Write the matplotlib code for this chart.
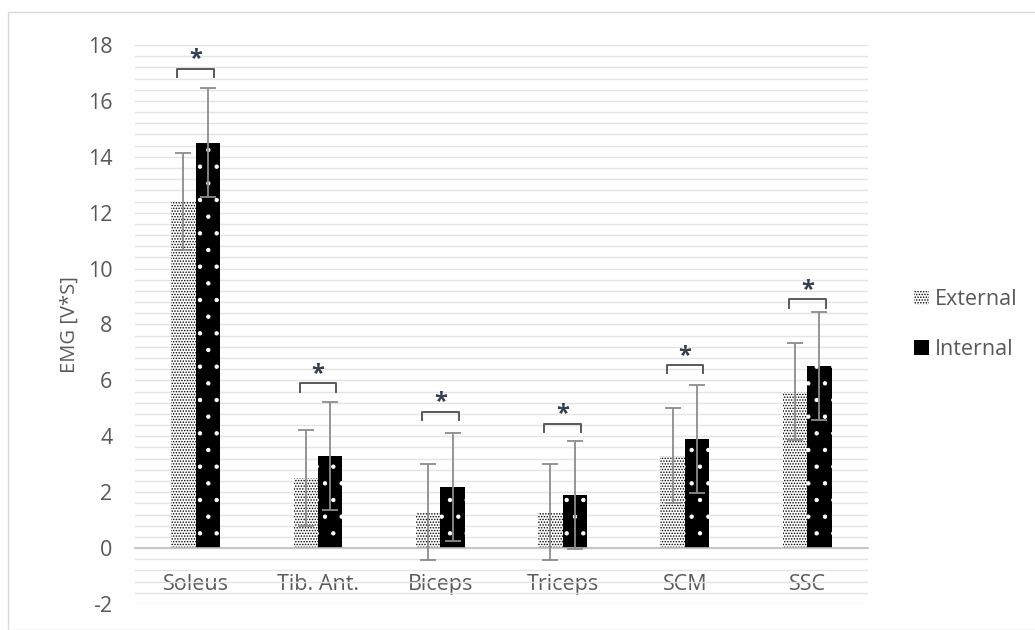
import matplotlib
matplotlib.use('Agg')
import matplotlib.pyplot as plt
import numpy as np
from matplotlib.patches import Patch, Rectangle
from matplotlib.ticker import MultipleLocator

plt.rcParams['font.family'] = ['Open Sans', 'DejaVu Sans']
plt.rcParams['axes.unicode_minus'] = False
plt.rcParams['hatch.linewidth'] = 0.7

muscles = ['Soleus', 'Tib. Ant.', 'Biceps', 'Triceps', 'SCM', 'SSC']
external = [12.4, 2.5, 1.3, 1.3, 3.3, 5.6]
external_err = [1.72, 1.72, 1.72, 1.72, 1.70, 1.72]
internal = [14.5, 3.3, 2.2, 1.9, 3.9, 6.5]
internal_err = [1.95, 1.93, 1.93, 1.93, 1.93, 1.93]
bracket_y = [17.15, 5.9, 4.88, 4.45, 6.55, 8.9]

text_col = '#595959'
grid_col = '#e4e4e4'
err_col = '#8c8c8c'
fs = 15.5

fig = plt.figure(figsize=(10.35, 6.3), dpi=100)
ax = fig.add_axes([0.130, 0.0413, 0.709, 0.8873])

x = np.arange(len(muscles))
w = 0.2

# external: white with dotted texture
ax.bar(x - w / 2, external, w, color='white', edgecolor='black', hatch='......',
       linewidth=0, zorder=2)
# internal: black with sparse white dots
ax.bar(x + w / 2, internal, w, color='black', linewidth=0, zorder=2)
ax.bar(x + w / 2, internal, w, color='none', edgecolor='white', hatch='.',
       linewidth=0, zorder=2.1)

ax.errorbar(x - w / 2, external, yerr=external_err, fmt='none', ecolor=err_col,
            elinewidth=1.3, capsize=6, capthick=1.3, zorder=3)
ax.errorbar(x + w / 2, internal, yerr=internal_err, fmt='none', ecolor=err_col,
            elinewidth=1.3, capsize=6, capthick=1.3, zorder=3)

# significance brackets
for xi, by in zip(x, bracket_y):
    x0, x1 = xi - 0.15, xi + 0.15
    ax.plot([x0, x0, x1, x1], [by - 0.3, by, by, by - 0.3], color='#595959',
            lw=1.4, zorder=3, solid_joinstyle='round')
    ax.text(xi, by - 0.1, '*', ha='center', va='bottom', fontsize=17,
            fontweight='bold', color='#333f50')

ax.set_xlim(-0.5, len(muscles) - 0.5)
ax.set_ylim(-2, 18)
ax.yaxis.set_major_locator(MultipleLocator(2))
ax.yaxis.set_minor_locator(MultipleLocator(0.4))
ax.grid(True, axis='y', which='both', color=grid_col, lw=1, zorder=0)
ax.set_axisbelow(True)

for s in ['top', 'right', 'left']:
    ax.spines[s].set_visible(False)
ax.spines['bottom'].set_position(('data', 0))
ax.spines['bottom'].set_color('#bfbfbf')
ax.spines['bottom'].set_linewidth(1.2)

ax.set_xticks(x)
ax.set_xticklabels(muscles)
ax.tick_params(axis='x', length=0, pad=19, labelsize=fs, labelcolor=text_col)
ax.tick_params(axis='y', which='both', length=0, pad=16, labelsize=fs,
               labelcolor=text_col)
ax.set_ylabel('EMG [V*S]', fontsize=14.5, color=text_col, labelpad=6)

handles = [Patch(facecolor='white', edgecolor='black', hatch='......', linewidth=0),
           Patch(facecolor='black', edgecolor='black', linewidth=0)]
fig.legend(handles, ['External', 'Internal'], loc='center left',
           bbox_to_anchor=(0.864, 0.485), frameon=False, fontsize=fs,
           labelcolor=text_col, handlelength=0.7, handleheight=0.7,
           handletextpad=0.3, labelspacing=1.35)

fig.patches.append(Rectangle((8 / 1035, 0), 1.0, 1 - 12 / 630,
                             transform=fig.transFigure, fill=False,
                             edgecolor='#d9d9d9', lw=1))

fig.savefig('out.png', dpi=100)
